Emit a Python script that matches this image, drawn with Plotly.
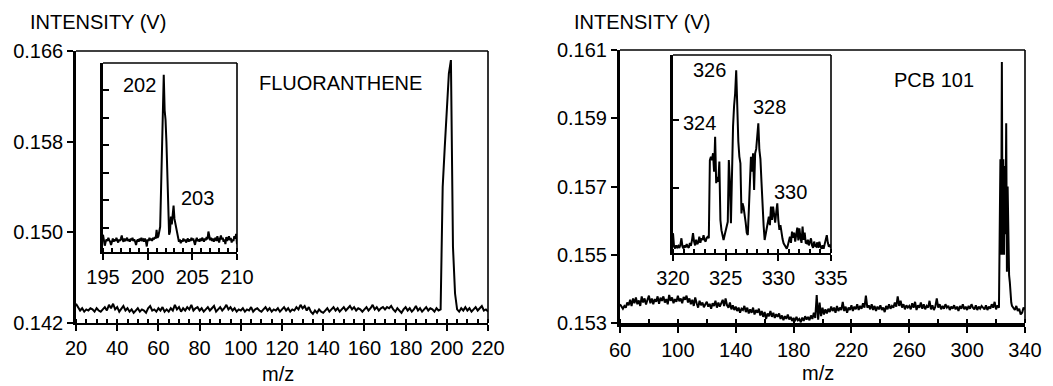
import numpy as np
import plotly.graph_objects as go

W, H = 1053, 386

# ---------------- DATA ----------------
# Fluoranthene full spectrum, m/z 20..220 step 1
flu_mz = list(range(20, 221))
flu_int = [
    0.1437, 0.1434, 0.1431, 0.1433, 0.1430, 0.1432, 0.1431, 0.1433, 0.1432, 0.1430,
    0.1433, 0.1431, 0.1430, 0.1432, 0.1434, 0.1431, 0.1436, 0.1433, 0.1437, 0.1432,
    0.1434, 0.1430, 0.1433, 0.1435, 0.1431, 0.1433, 0.1430, 0.1432, 0.1429, 0.1431,
    0.1433, 0.1430, 0.1432, 0.1431, 0.1429, 0.1433, 0.1435, 0.1431, 0.1432, 0.1430,
    0.1433, 0.1431, 0.1434, 0.1430, 0.1432, 0.1430, 0.1433, 0.1431, 0.1436, 0.1432,
    0.1434, 0.1430, 0.1433, 0.1431, 0.1434, 0.1432, 0.1436, 0.1431, 0.1433, 0.1434,
    0.1431, 0.1433, 0.1430, 0.1432, 0.1434, 0.1431, 0.1433, 0.1435, 0.1430, 0.1432,
    0.1434, 0.1431, 0.1433, 0.1436, 0.1432, 0.1434, 0.1431, 0.1433, 0.1430, 0.1432,
    0.1431, 0.1433, 0.1430, 0.1432, 0.1431, 0.1434, 0.1430, 0.1432, 0.1433, 0.1431,
    0.1430, 0.1432, 0.1434, 0.1431, 0.1433, 0.1430, 0.1432, 0.1431, 0.1433, 0.1430,
    0.1432, 0.1434, 0.1431, 0.1433, 0.1430, 0.1432, 0.1431, 0.1434, 0.1432, 0.1436,
    0.1433, 0.1435, 0.1431, 0.1434, 0.1430, 0.1428, 0.1431, 0.1429, 0.1432, 0.1430,
    0.1429, 0.1431, 0.1433, 0.1430, 0.1432, 0.1434, 0.1431, 0.1433, 0.1430, 0.1432,
    0.1434, 0.1431, 0.1433, 0.1435, 0.1432, 0.1434, 0.1431, 0.1433, 0.1432, 0.1430,
    0.1432, 0.1434, 0.1431, 0.1433, 0.1436, 0.1432, 0.1434, 0.1431, 0.1433, 0.1434,
    0.1432, 0.1434, 0.1433, 0.1435, 0.1432, 0.1430, 0.1433, 0.1431, 0.1429, 0.1432,
    0.1434, 0.1431, 0.1433, 0.1430, 0.1432, 0.1435, 0.1431, 0.1433, 0.1430, 0.1432,
    0.1434, 0.1431, 0.1433, 0.1432, 0.1430, 0.1433, 0.1431, 0.1432, 0.1540, 0.1575,
    0.1610, 0.1640, 0.1652, 0.1487, 0.1446, 0.1432, 0.1430, 0.1433, 0.1431, 0.1434,
    0.1431, 0.1433, 0.1430, 0.1432, 0.1434, 0.1431, 0.1433, 0.1435, 0.1431, 0.1432,
    0.1430,
]

# Fluoranthene inset, m/z 195.0..210.0 step 0.1
flu_in_mz = [round(195 + 0.1 * i, 1) for i in range(151)]
flu_in_int = [
    0.1442, 0.1436, 0.1428, 0.1433, 0.1436, 0.1434, 0.1438, 0.1435, 0.1433, 0.1429,
    0.1434, 0.1437, 0.1433, 0.1436, 0.1434, 0.1438, 0.1435, 0.1432, 0.1436, 0.1434,
    0.1437, 0.1441, 0.1435, 0.1433, 0.1437, 0.1434, 0.1436, 0.1438, 0.1434, 0.1436,
    0.1433, 0.1437, 0.1435, 0.1438, 0.1434, 0.1436, 0.1433, 0.1429, 0.1434, 0.1436,
    0.1433, 0.1437, 0.1434, 0.1438, 0.1435, 0.1436, 0.1433, 0.1437, 0.1434, 0.1427,
    0.1436, 0.1434, 0.1438, 0.1435, 0.1437, 0.1434, 0.1438, 0.1436, 0.1439, 0.1437,
    0.1448, 0.1438, 0.1440, 0.1446, 0.1452, 0.1500, 0.1560, 0.1610, 0.1645, 0.1600,
    0.1588, 0.1560, 0.1516, 0.1470, 0.1442, 0.1446, 0.1465, 0.1455, 0.1468, 0.1479,
    0.1462, 0.1456, 0.1450, 0.1447, 0.1438, 0.1433, 0.1436, 0.1431, 0.1435, 0.1433,
    0.1437, 0.1434, 0.1436, 0.1432, 0.1435, 0.1437, 0.1433, 0.1436, 0.1434, 0.1438,
    0.1435, 0.1437, 0.1433, 0.1429, 0.1435, 0.1438, 0.1434, 0.1436, 0.1433, 0.1437,
    0.1434, 0.1438, 0.1436, 0.1433, 0.1437, 0.1435, 0.1439, 0.1436, 0.1446, 0.1437,
    0.1435, 0.1438, 0.1434, 0.1437, 0.1433, 0.1436, 0.1438, 0.1434, 0.1440, 0.1436,
    0.1432, 0.1437, 0.1441, 0.1436, 0.1438, 0.1433, 0.1436, 0.1430, 0.1439, 0.1434,
    0.1437, 0.1440, 0.1435, 0.1438, 0.1432, 0.1436, 0.1434, 0.1440, 0.1437, 0.1443,
    0.1430,
]

# PCB 101 full spectrum: m/z 60..322 step 1, peak cluster at half steps, 332..340
pcb_peak_mz = [323, 323.5, 324, 324.5, 325, 325.5, 326, 326.5, 327, 327.5,
               328, 328.5, 329, 329.5, 330, 330.5, 331]
pcb_mz = list(range(60, 323)) + pcb_peak_mz + list(range(332, 341))
pcb_int = [
    0.15355, 0.15348, 0.15342, 0.15350, 0.15345, 0.15360, 0.15352, 0.15368, 0.15350, 0.15372,
    0.15358, 0.15375, 0.15355, 0.15366, 0.15350, 0.15378, 0.15360, 0.15372, 0.15354, 0.15368,
    0.15380, 0.15358, 0.15372, 0.15355, 0.15370, 0.15362, 0.15378, 0.15356, 0.15374, 0.15365,
    0.15378, 0.15360, 0.15370, 0.15355, 0.15382, 0.15365, 0.15375, 0.15358, 0.15370, 0.15362,
    0.15380, 0.15364, 0.15372, 0.15358, 0.15376, 0.15368, 0.15380, 0.15360, 0.15372, 0.15355,
    0.15368, 0.15350, 0.15375, 0.15358, 0.15345, 0.15365, 0.15352, 0.15360, 0.15346, 0.15355,
    0.15362, 0.15348, 0.15356, 0.15342, 0.15358, 0.15350, 0.15365, 0.15345, 0.15360, 0.15348,
    0.15356, 0.15368, 0.15350, 0.15372, 0.15352, 0.15345, 0.15360, 0.15340, 0.15352, 0.15338,
    0.15348, 0.15335, 0.15345, 0.15330, 0.15342, 0.15338, 0.15350, 0.15332, 0.15345, 0.15328,
    0.15340, 0.15330, 0.15345, 0.15325, 0.15338, 0.15330, 0.15342, 0.15322, 0.15335, 0.15318,
    0.15332, 0.15312, 0.15328, 0.15320, 0.15335, 0.15318, 0.15330, 0.15315, 0.15326, 0.15318,
    0.15328, 0.15312, 0.15322, 0.15308, 0.15320, 0.15312, 0.15325, 0.15310, 0.15318, 0.15306,
    0.15315, 0.15305, 0.15318, 0.15308, 0.15312, 0.15302, 0.15316, 0.15306, 0.15320, 0.15310,
    0.15318, 0.15308, 0.15322, 0.15312, 0.15330, 0.15315, 0.15382, 0.15310, 0.15360, 0.15320,
    0.15345, 0.15325, 0.15340, 0.15328, 0.15342, 0.15332, 0.15348, 0.15335, 0.15345, 0.15330,
    0.15350, 0.15335, 0.15345, 0.15338, 0.15362, 0.15335, 0.15348, 0.15330, 0.15345, 0.15338,
    0.15352, 0.15335, 0.15348, 0.15340, 0.15355, 0.15338, 0.15350, 0.15342, 0.15358, 0.15345,
    0.15380, 0.15345, 0.15352, 0.15340, 0.15355, 0.15338, 0.15350, 0.15335, 0.15348, 0.15340,
    0.15352, 0.15338, 0.15345, 0.15332, 0.15350, 0.15340, 0.15355, 0.15342, 0.15350, 0.15345,
    0.15360, 0.15348, 0.15378, 0.15350, 0.15365, 0.15345, 0.15355, 0.15340, 0.15352, 0.15345,
    0.15350, 0.15340, 0.15358, 0.15345, 0.15362, 0.15338, 0.15352, 0.15345, 0.15360, 0.15342,
    0.15355, 0.15340, 0.15350, 0.15345, 0.15365, 0.15340, 0.15352, 0.15338, 0.15348, 0.15372,
    0.15345, 0.15355, 0.15340, 0.15350, 0.15342, 0.15355, 0.15345, 0.15350, 0.15338, 0.15348,
    0.15342, 0.15352, 0.15340, 0.15348, 0.15335, 0.15350, 0.15342, 0.15355, 0.15340, 0.15348,
    0.15338, 0.15350, 0.15342, 0.15355, 0.15345, 0.15340, 0.15352, 0.15338, 0.15348, 0.15342,
    0.15350, 0.15345, 0.15340, 0.15352, 0.15338, 0.15348, 0.15342, 0.15355, 0.15345, 0.15362,
    0.15340, 0.15352, 0.15345,
    # peak cluster (323..331, half steps)
    0.15780, 0.15500, 0.16065, 0.15500, 0.15780, 0.15500, 0.15760, 0.15560, 0.15885, 0.15450,
    0.15700, 0.15510, 0.15440, 0.15420, 0.15380, 0.15360, 0.15350,
    # 332..340
    0.15345, 0.15338, 0.15350, 0.15335, 0.15342, 0.15325, 0.15330, 0.15345, 0.15340,
]

# PCB 101 inset, m/z 320.0..335.0 step 0.1
pcb_in_mz = [round(320 + 0.1 * i, 1) for i in range(151)]
pcb_in_int = [
    0.15398, 0.15345, 0.15338, 0.15350, 0.15342, 0.15348, 0.15340, 0.15352, 0.15378, 0.15345,
    0.15338, 0.15350, 0.15342, 0.15355, 0.15345, 0.15340, 0.15360, 0.15348, 0.15370, 0.15398,
    0.15365, 0.15350, 0.15372, 0.15355, 0.15362, 0.15384, 0.15360, 0.15378, 0.15371, 0.15390,
    0.15371, 0.15365, 0.15380, 0.15384, 0.15378, 0.15686, 0.15699, 0.15686, 0.15713, 0.15640,
    0.15778, 0.15595, 0.15620, 0.15600, 0.15680, 0.15450, 0.15410, 0.15385, 0.15371, 0.15390,
    0.15410, 0.15425, 0.15443, 0.15686, 0.15600, 0.15437, 0.15650, 0.15818, 0.15900, 0.15949,
    0.16040, 0.15831, 0.15760, 0.15700, 0.15673, 0.15476, 0.15516, 0.15500, 0.15476, 0.15440,
    0.15400, 0.15391, 0.15490, 0.15595, 0.15699, 0.15640, 0.15713, 0.15568, 0.15713, 0.15730,
    0.15790, 0.15831, 0.15726, 0.15690, 0.15600, 0.15490, 0.15430, 0.15371, 0.15400, 0.15411,
    0.15440, 0.15463, 0.15430, 0.15503, 0.15450, 0.15503, 0.15463, 0.15440, 0.15480, 0.15516,
    0.15450, 0.15411, 0.15430, 0.15390, 0.15375, 0.15358, 0.15350, 0.15345, 0.15337, 0.15350,
    0.15370, 0.15384, 0.15360, 0.15404, 0.15380, 0.15400, 0.15365, 0.15391, 0.15420, 0.15370,
    0.15417, 0.15380, 0.15360, 0.15424, 0.15372, 0.15400, 0.15360, 0.15358, 0.15372, 0.15350,
    0.15365, 0.15378, 0.15350, 0.15340, 0.15365, 0.15348, 0.15345, 0.15362, 0.15340, 0.15365,
    0.15345, 0.15337, 0.15350, 0.15337, 0.15355, 0.15378, 0.15390, 0.15360, 0.15345, 0.15350,
    0.15340,
]

flu_ticks = [0.142, 0.150, 0.158, 0.166]
pcb_ticks = [0.153, 0.155, 0.157, 0.159, 0.161]

FONT = "Liberation Sans, Arial, Helvetica, sans-serif"
FS = 20


def px_x(p):
    return p / W


def px_y(p):
    return (H - p) / H


fig = go.Figure()
line = dict(color="black", width=2)
fig.add_trace(go.Scatter(x=flu_mz, y=flu_int, mode="lines", line=line, xaxis="x", yaxis="y"))
fig.add_trace(go.Scatter(x=flu_in_mz, y=flu_in_int, mode="lines", line=line, xaxis="x2", yaxis="y2"))
fig.add_trace(go.Scatter(x=pcb_mz, y=pcb_int, mode="lines", line=line, xaxis="x3", yaxis="y3"))
fig.add_trace(go.Scatter(x=pcb_in_mz, y=pcb_in_int, mode="lines", line=line, xaxis="x4", yaxis="y4"))

tickfont = dict(family=FONT, size=FS, color="black")


def xax(dom, anchor, rng, dtick, minor_dtick, lw, tick0=None):
    return dict(domain=dom, anchor=anchor, range=rng, dtick=dtick,
                tick0=tick0 if tick0 is not None else rng[0], automargin=False,
                showgrid=False, zeroline=False, showline=True, linecolor="black", linewidth=lw,
                ticks="outside", ticklen=6, tickwidth=2, tickcolor="black", tickfont=tickfont,
                minor=dict(dtick=minor_dtick, ticks="inside", ticklen=4,
                           tickwidth=1.5, tickcolor="black", showgrid=False))


def yax(dom, anchor, rng, tickvals, lw, labels=True, inside=False):
    return dict(domain=dom, anchor=anchor, range=rng, tickvals=tickvals, automargin=False,
                ticktext=[f"{v:.3f}" for v in tickvals],
                showgrid=False, zeroline=False, showline=True, linecolor="black", linewidth=lw,
                ticks="inside" if inside else "outside", ticklen=6, tickwidth=2, tickcolor="black",
                tickfont=tickfont, showticklabels=labels)


# pixel boxes (left, right, top, bottom)
LM = (76, 488, 51, 323)
LI = (103, 237, 63, 252)
RM = (620, 1025, 50, 323)
RI = (673, 831, 55, 253)


def dom_x(b):
    return [px_x(b[0]), px_x(b[1])]


def dom_y(b):
    return [px_y(b[3]), px_y(b[2])]


fig.update_layout(
    width=W, height=H, margin=dict(l=0, r=0, t=0, b=0),
    paper_bgcolor="white", plot_bgcolor="rgba(0,0,0,0)", showlegend=False,
    xaxis=xax(dom_x(LM), "y", [20, 220], 20, 5, 2),
    yaxis=yax(dom_y(LM), "x", [0.142, 0.166], flu_ticks, 2.5),
    xaxis2=xax(dom_x(LI), "y2", [195, 210], 5, 1, 2),
    yaxis2=yax(dom_y(LI), "x2", [0.142, 0.166], [0.14505, 0.14855, 0.15205, 0.15555, 0.15905, 0.16255], 2.5,
               labels=False, inside=True),
    xaxis3=xax(dom_x(RM), "y3", [60, 340], 40, 20, 3.5),
    yaxis3=yax(dom_y(RM), "x3", [0.153, 0.161], pcb_ticks, 3),
    xaxis4=xax(dom_x(RI), "y4", [320, 335], 5, 1, 2),
    yaxis4=yax(dom_y(RI), "x4", [0.1532, 0.1610], [0.15576, 0.15844], 3, labels=False, inside=True),
)

# thin top / right frame lines
shapes = []
for b in (LM, LI, RM, RI):
    x0, x1, y0, y1 = px_x(b[0]), px_x(b[1]), px_y(b[3]), px_y(b[2])
    shapes.append(dict(type="line", xref="paper", yref="paper", x0=x0, x1=x1, y0=y1, y1=y1,
                       line=dict(color="black", width=1.6)))
    shapes.append(dict(type="line", xref="paper", yref="paper", x0=x1, x1=x1, y0=y0, y1=y1,
                       line=dict(color="black", width=1.6)))
fig.update_layout(shapes=shapes)

txt = dict(family=FONT, size=FS, color="black")
ann = []
ann.append(dict(text="INTENSITY (V)", xref="paper", yref="paper", x=px_x(28), y=px_y(22),
                xanchor="left", yanchor="middle", showarrow=False, font=txt))
ann.append(dict(text="INTENSITY (V)", xref="paper", yref="paper", x=px_x(572), y=px_y(22),
                xanchor="left", yanchor="middle", showarrow=False, font=txt))
ann.append(dict(text="m/z", xref="paper", yref="paper", x=px_x(278), y=px_y(374),
                xanchor="center", yanchor="middle", showarrow=False, font=txt))
ann.append(dict(text="m/z", xref="paper", yref="paper", x=px_x(818), y=px_y(373),
                xanchor="center", yanchor="middle", showarrow=False, font=txt))
ann.append(dict(text="FLUORANTHENE", xref="paper", yref="paper", x=px_x(257), y=px_y(83),
                xanchor="left", yanchor="middle", showarrow=False, font=txt))
ann.append(dict(text="PCB 101", xref="paper", yref="paper", x=px_x(892), y=px_y(80),
                xanchor="left", yanchor="middle", showarrow=False, font=txt))
for t, x, y, xr, yr in [("202", 199.1, 0.16321, "x2", "y2"), ("203", 205.6, 0.14886, "x2", "y2"),
                        ("326", 323.47, 0.16041, "x4", "y4"), ("324", 322.52, 0.15832, "x4", "y4"),
                        ("328", 329.16, 0.15895, "x4", "y4"), ("330", 331.16, 0.15560, "x4", "y4")]:
    ann.append(dict(text=t, xref=xr, yref=yr, x=x, y=y, xanchor="center", yanchor="middle",
                    showarrow=False, font=txt))
fig.update_layout(annotations=ann)

fig.write_html("out.html", config={"displayModeBar": False},
               post_script="document.body.style.margin='0';document.body.style.overflow='hidden';")
